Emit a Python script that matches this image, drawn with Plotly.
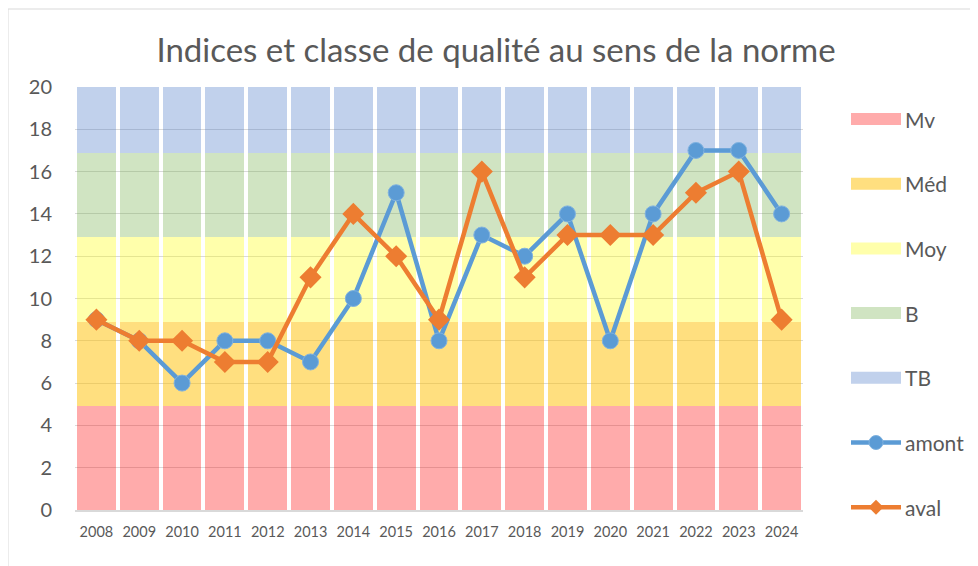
import plotly.graph_objects as go

# Data
years = [str(y) for y in range(2008, 2025)]
amont = [9, 8, 6, 8, 8, 7, 10, 15, 8, 13, 12, 14, 8, 14, 17, 17, 14]
aval = [9, 8, 8, 7, 7, 11, 14, 12, 9, 16, 11, 13, 13, 13, 15, 16, 9]

# Quality class bands (stacked heights)
class_names = ["Mv", "Méd", "Moy", "B", "TB"]
class_heights = [4.9, 4.0, 4.0, 4.0, 3.1]
class_colors = [
    "rgba(255,0,0,0.33)",
    "rgba(255,192,0,0.5)",
    "rgba(255,255,0,0.33)",
    "rgba(112,173,71,0.33)",
    "rgba(68,114,196,0.33)",
]

BLUE = "#5B9BD5"
ORANGE = "#ED7D31"
TEXT = "#595959"
FONT = "Lato, 'Open Sans', sans-serif"

W, H = 978, 566
OFF = 8  # page body margin shifts the figure by 8px
L, T = 75 - OFF, 87 - OFF
R = W - (803 - OFF)
B = H - (510 - OFF)
pw, ph = W - L - R, H - T - B


def px_x(x):
    # screen x -> paper
    return (x - OFF - L) / pw


def px_y(y):
    # screen y -> paper
    return (H - B - (y - OFF)) / ph


fig = go.Figure()

for name, h, c in zip(class_names, class_heights, class_colors):
    fig.add_trace(go.Bar(
        x=years, y=[h] * len(years), name=name,
        marker=dict(color=c, line=dict(width=0)),
        hoverinfo="skip", showlegend=False,
    ))

fig.add_trace(go.Scatter(
    x=years, y=amont, name="amont", mode="lines+markers",
    line=dict(color=BLUE, width=4.5),
    marker=dict(symbol="circle", size=16, color=BLUE, line=dict(color="#7FB2E0", width=1)),
    showlegend=False,
))
fig.add_trace(go.Scatter(
    x=years, y=aval, name="aval", mode="lines+markers",
    line=dict(color=ORANGE, width=4.5),
    marker=dict(symbol="diamond", size=17, color=ORANGE),
    showlegend=False,
))

# Custom legend drawn to mimic the Excel look
shapes = []
annotations = []
legend_names = class_names + ["amont", "aval"]
for i, name in enumerate(legend_names):
    yc = 119 + 64.7 * i
    x0, x1 = 851, 901
    if i < len(class_names):
        shapes.append(dict(
            type="rect", xref="paper", yref="paper",
            x0=px_x(x0), x1=px_x(x1), y0=px_y(yc + 6), y1=px_y(yc - 6),
            fillcolor=class_colors[i], line=dict(width=0),
        ))
    else:
        col = BLUE if name == "amont" else ORANGE
        shapes.append(dict(
            type="line", xref="paper", yref="paper",
            x0=px_x(x0), x1=px_x(x1), y0=px_y(yc), y1=px_y(yc),
            line=dict(color=col, width=4.5),
        ))
        if name == "amont":
            shapes.append(dict(
                type="circle", xref="paper", yref="paper",
                x0=px_x(876 - 7), x1=px_x(876 + 7), y0=px_y(yc + 7), y1=px_y(yc - 7),
                fillcolor=BLUE, line=dict(color="#7FB2E0", width=1),
            ))
        else:
            d = 7.5
            path = (f"M {px_x(876 - d)} {px_y(yc)} L {px_x(876)} {px_y(yc - d)} "
                    f"L {px_x(876 + d)} {px_y(yc)} L {px_x(876)} {px_y(yc + d)} Z")
            shapes.append(dict(
                type="path", xref="paper", yref="paper", path=path,
                fillcolor=ORANGE, line=dict(width=0),
            ))
    annotations.append(dict(
        text=name, xref="paper", yref="paper", x=px_x(903), y=px_y(yc),
        xanchor="left", yanchor="middle", showarrow=False,
        font=dict(family=FONT, size=21, color=TEXT),
    ))

# Chart border (left and top edges visible)
shapes.append(dict(
    type="rect", xref="paper", yref="paper", layer="below",
    x0=px_x(8), x1=px_x(W + 40), y0=px_y(H + 40), y1=px_y(9),
    line=dict(color="#D9D9D9", width=1), fillcolor="rgba(0,0,0,0)",
))

fig.update_layout(
    width=W, height=H,
    barmode="stack", bargap=0.093,
    title=dict(
        text="Indices et classe de qualité au sens de la norme",
        x=px_x(496), xanchor="center", xref="paper",
        y=1 - (50 - OFF) / H, yanchor="middle",
        font=dict(family=FONT, size=33, color=TEXT),
    ),
    paper_bgcolor="white", plot_bgcolor="white",
    margin=dict(l=L, r=R, t=T, b=B, autoexpand=False),
    font=dict(family=FONT, color=TEXT),
    shapes=shapes, annotations=annotations,
)
fig.update_xaxes(
    type="category", range=[-0.5, len(years) - 0.5], showgrid=False, automargin=False,
    showline=True, linecolor="#D9D9D9", linewidth=2,
    ticks="", tickfont=dict(size=14.5, color=TEXT), ticklabelstandoff=8,
)
fig.update_yaxes(
    range=[0, 20], dtick=2, showgrid=True, gridcolor="#D9D9D9", gridwidth=1,
    zeroline=False, showline=False, ticks="", automargin=False,
    tickfont=dict(size=20, color=TEXT), ticklabelstandoff=22,
)

fig.write_html("out.html")
